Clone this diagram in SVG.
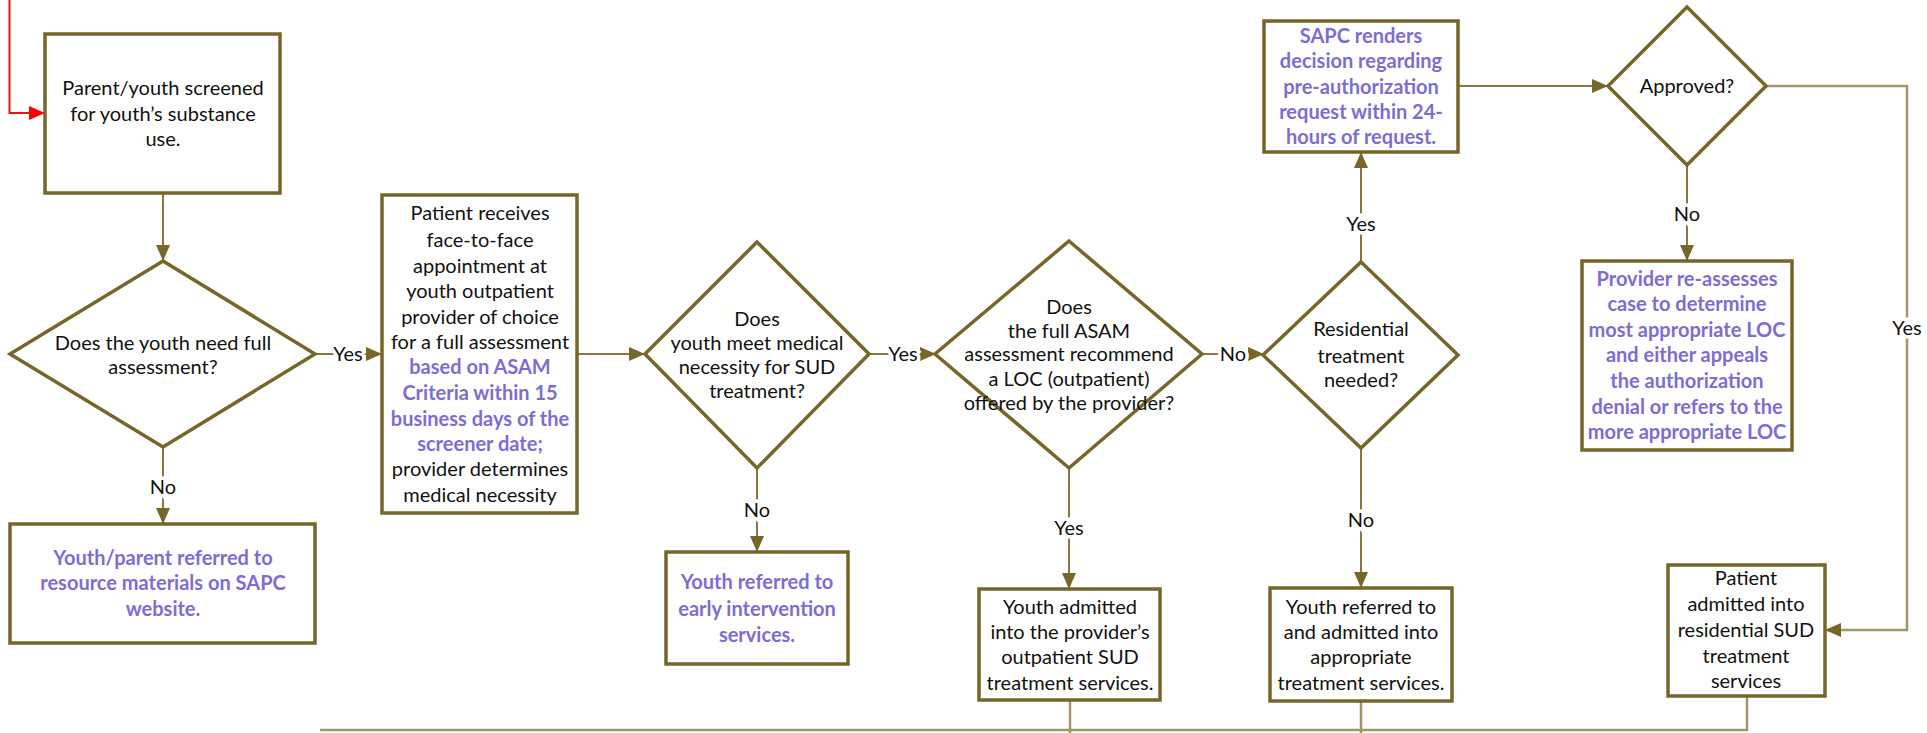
<svg xmlns="http://www.w3.org/2000/svg" width="1927" height="733" viewBox="0 0 1927 733">
<defs>
<marker id="ah" markerUnits="userSpaceOnUse" markerWidth="16" markerHeight="14" refX="15" refY="7" orient="auto">
<path d="M0,0 L16,7 L0,14 Z" fill="#76662a"/>
</marker>
<marker id="ahr" markerUnits="userSpaceOnUse" markerWidth="16" markerHeight="14" refX="15" refY="7" orient="auto">
<path d="M0,0 L16,7 L0,14 Z" fill="#ff0000"/>
</marker>
<style>
.box{fill:#fff;stroke:#76662a;stroke-width:3.5}
.c{fill:none;stroke:#87783f;stroke-width:2}
.cl{fill:none;stroke:#a0966a;stroke-width:2.5}
text{font-family:Lato,"Liberation Sans",sans-serif;font-size:20px;fill:#111;text-anchor:middle}
.p{fill:#7b6ed0;font-weight:bold}
.lb{paint-order:stroke;stroke:#fff;stroke-width:7px}
</style>
</defs>
<rect width="1927" height="733" fill="#fff"/>
<g id="connectors">
<path d="M9.5,0 V113 H44" fill="none" stroke="#e8141c" stroke-width="2" marker-end="url(#ahr)"/>
<path class="c" d="M163,193 V260" marker-end="url(#ah)"/>
<path class="c" d="M315,354 H381" marker-end="url(#ah)"/>
<path class="c" d="M163,447 V523" marker-end="url(#ah)"/>
<path class="c" d="M577,354 H644" marker-end="url(#ah)"/>
<path class="c" d="M869,354 H935" marker-end="url(#ah)"/>
<path class="c" d="M757,468 V551" marker-end="url(#ah)"/>
<path class="c" d="M1069,468 V588" marker-end="url(#ah)"/>
<path class="c" d="M1202,354 H1263" marker-end="url(#ah)"/>
<path class="c" d="M1361,262 V153" marker-end="url(#ah)"/>
<path class="c" d="M1361,448 V587" marker-end="url(#ah)"/>
<path class="c" d="M1458,86 H1607" marker-end="url(#ah)"/>
<path class="c" d="M1687,165 V260" marker-end="url(#ah)"/>
<path class="cl" d="M1766,86 H1907 V630 H1826" marker-end="url(#ah)"/>
<path class="cl" d="M1070,700 V733 M1361,701 V733 M1747,696 V730 H320"/>
<text class="lb" x="348" y="361">Yes</text>
<text class="lb" x="163" y="494">No</text>
<text class="lb" x="903" y="361">Yes</text>
<text class="lb" x="757" y="517">No</text>
<text class="lb" x="1069" y="535">Yes</text>
<text class="lb" x="1233" y="361">No</text>
<text class="lb" x="1361" y="231">Yes</text>
<text class="lb" x="1361" y="527">No</text>
<text class="lb" x="1687" y="221">No</text>
<text class="lb" x="1907" y="335">Yes</text>
</g>
<g id="screen">
<rect class="box" x="45" y="34" width="235" height="159"/>
<text x="163" y="95">Parent/youth screened</text>
<text x="163" y="121">for youth’s substance</text>
<text x="163" y="146">use.</text>
</g>
<g id="need-full">
<polygon class="box" points="163,261 315,354 163,447 10,354"/>
<text x="163" y="350">Does the youth need full</text>
<text x="163" y="374">assessment?</text>
</g>
<g id="resource">
<rect class="box" x="10" y="524" width="305" height="119"/>
<text class="p" x="163" y="565">Youth/parent referred to</text>
<text class="p" x="163" y="590">resource materials on SAPC</text>
<text class="p" x="163" y="616">website.</text>
</g>
<g id="f2f">
<rect class="box" x="382" y="195" width="195" height="318"/>
<text x="480" y="220">Patient receives</text>
<text x="480" y="247">face-to-face</text>
<text x="480" y="273">appointment at</text>
<text x="480" y="298">youth outpatient</text>
<text x="480" y="324">provider of choice</text>
<text x="480" y="349">for a full assessment</text>
<text class="p" x="480" y="374">based on ASAM</text>
<text class="p" x="480" y="400">Criteria within 15</text>
<text class="p" x="480" y="426">business days of the</text>
<text class="p" x="480" y="451">screener date;</text>
<text x="480" y="476">provider determines</text>
<text x="480" y="502">medical necessity</text>
</g>
<g id="med-nec">
<polygon class="box" points="757,242 869,354 757,468 645,354"/>
<text x="757" y="326">Does</text>
<text x="757" y="350">youth meet medical</text>
<text x="757" y="374">necessity for SUD</text>
<text x="757" y="398">treatment?</text>
</g>
<g id="early">
<rect class="box" x="666" y="552" width="182" height="112"/>
<text class="p" x="757" y="589">Youth referred to</text>
<text class="p" x="757" y="616">early intervention</text>
<text class="p" x="757" y="642">services.</text>
</g>
<g id="asam-loc">
<polygon class="box" points="1069,241 1202,354 1069,468 935,354"/>
<text x="1069" y="314">Does</text>
<text x="1069" y="338">the full ASAM</text>
<text x="1069" y="361">assessment recommend</text>
<text x="1069" y="386">a LOC (outpatient)</text>
<text x="1069" y="410">offered by the provider?</text>
</g>
<g id="outpatient">
<rect class="box" x="979" y="589" width="181" height="111"/>
<text x="1070" y="614">Youth admitted</text>
<text x="1070" y="639">into the provider’s</text>
<text x="1070" y="664">outpatient SUD</text>
<text x="1070" y="690">treatment services.</text>
</g>
<g id="residential">
<polygon class="box" points="1361,262 1458,355 1361,448 1263,355"/>
<text x="1361" y="336">Residential</text>
<text x="1361" y="363">treatment</text>
<text x="1361" y="387">needed?</text>
</g>
<g id="appropriate">
<rect class="box" x="1270" y="588" width="182" height="113"/>
<text x="1361" y="614">Youth referred to</text>
<text x="1361" y="639">and admitted into</text>
<text x="1361" y="664">appropriate</text>
<text x="1361" y="690">treatment services.</text>
</g>
<g id="sapc">
<rect class="box" x="1264" y="21" width="194" height="131"/>
<text class="p" x="1361" y="43">SAPC renders</text>
<text class="p" x="1361" y="68">decision regarding</text>
<text class="p" x="1361" y="94">pre-authorization</text>
<text class="p" x="1361" y="119">request within 24-</text>
<text class="p" x="1361" y="144">hours of request.</text>
</g>
<g id="approved">
<polygon class="box" points="1687,7 1766,86 1687,165 1608,86"/>
<text x="1687" y="93">Approved?</text>
</g>
<g id="reassess">
<rect class="box" x="1582" y="261" width="210" height="189"/>
<text class="p" x="1687" y="286">Provider re-assesses</text>
<text class="p" x="1687" y="311">case to determine</text>
<text class="p" x="1687" y="337">most appropriate LOC</text>
<text class="p" x="1687" y="362">and either appeals</text>
<text class="p" x="1687" y="388">the authorization</text>
<text class="p" x="1687" y="414">denial or refers to the</text>
<text class="p" x="1687" y="439">more appropriate LOC</text>
</g>
<g id="res-admit">
<rect class="box" x="1668" y="565" width="157" height="131"/>
<text x="1746" y="585">Patient</text>
<text x="1746" y="611">admitted into</text>
<text x="1746" y="637">residential SUD</text>
<text x="1746" y="663">treatment</text>
<text x="1746" y="688">services</text>
</g>
</svg>
